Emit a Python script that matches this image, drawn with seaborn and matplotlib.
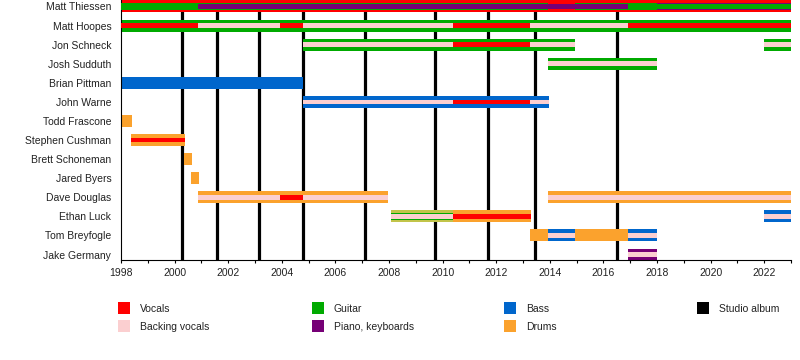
import matplotlib
matplotlib.use("Agg")
import matplotlib.pyplot as plt
from matplotlib.patches import Rectangle
import seaborn as sns

# ---------------- data ----------------
members = ["Matt Thiessen", "Matt Hoopes", "Jon Schneck", "Josh Sudduth",
           "Brian Pittman", "John Warne", "Todd Frascone", "Stephen Cushman",
           "Brett Schoneman", "Jared Byers", "Dave Douglas", "Ethan Luck",
           "Tom Breyfogle", "Jake Germany"]

roles = ["Vocals", "Backing vocals", "Guitar", "Piano, keyboards", "Bass", "Drums"]

# wide bars: (member, role, start, end)
wide_bars = [
    ("Matt Thiessen", "Vocals", 1998.0, 2023.0),
    ("Matt Hoopes", "Guitar", 1998.0, 2023.0),
    ("Jon Schneck", "Guitar", 2004.79, 2014.94),
    ("Jon Schneck", "Guitar", 2022.0, 2023.0),
    ("Josh Sudduth", "Guitar", 2013.93, 2018.0),
    ("Brian Pittman", "Bass", 1998.0, 2004.79),
    ("John Warne", "Bass", 2004.79, 2013.97),
    ("Todd Frascone", "Drums", 1998.0, 1998.41),
    ("Stephen Cushman", "Drums", 1998.37, 2000.39),
    ("Brett Schoneman", "Drums", 2000.35, 2000.65),
    ("Jared Byers", "Drums", 2000.6, 2000.9),
    ("Dave Douglas", "Drums", 2000.87, 2007.96),
    ("Dave Douglas", "Drums", 2013.93, 2023.0),
    ("Ethan Luck", "Guitar/Drums", 2008.07, 2010.39),
    ("Ethan Luck", "Drums", 2010.39, 2013.3),
    ("Ethan Luck", "Bass", 2022.0, 2023.0),
    ("Tom Breyfogle", "Drums", 2013.26, 2013.93),
    ("Tom Breyfogle", "Bass", 2013.93, 2014.94),
    ("Tom Breyfogle", "Drums", 2014.94, 2016.92),
    ("Tom Breyfogle", "Bass", 2016.92, 2018.0),
    ("Jake Germany", "Piano, keyboards", 2016.92, 2018.0),
]

# medium bars
mid_bars = [
    ("Matt Thiessen", "Guitar", 1998.0, 2013.93),
    ("Matt Thiessen", "Guitar", 2014.94, 2018.0),
    ("Matt Thiessen", "Piano, keyboards", 2018.0, 2023.0),
    ("Ethan Luck", "Guitar", 2008.07, 2010.39),
]

# thin bars
thin_bars = [
    ("Matt Thiessen", "Piano, keyboards", 2000.87, 2016.92),
    ("Matt Thiessen", "Guitar", 2018.0, 2023.0),
    ("Matt Hoopes", "Vocals", 1998.0, 2000.87),
    ("Matt Hoopes", "Backing vocals", 2000.87, 2003.93),
    ("Matt Hoopes", "Vocals", 2003.93, 2004.79),
    ("Matt Hoopes", "Backing vocals", 2004.79, 2010.39),
    ("Matt Hoopes", "Vocals", 2010.39, 2013.26),
    ("Matt Hoopes", "Backing vocals", 2013.26, 2016.92),
    ("Matt Hoopes", "Vocals", 2016.92, 2023.0),
    ("Jon Schneck", "Backing vocals", 2004.79, 2010.39),
    ("Jon Schneck", "Vocals", 2010.39, 2013.26),
    ("Jon Schneck", "Backing vocals", 2013.26, 2014.94),
    ("Jon Schneck", "Backing vocals", 2022.0, 2023.0),
    ("Josh Sudduth", "Backing vocals", 2013.93, 2018.0),
    ("John Warne", "Backing vocals", 2004.79, 2010.39),
    ("John Warne", "Vocals", 2010.39, 2013.26),
    ("John Warne", "Backing vocals", 2013.26, 2013.97),
    ("Stephen Cushman", "Vocals", 1998.37, 2000.39),
    ("Dave Douglas", "Backing vocals", 2000.87, 2003.93),
    ("Dave Douglas", "Vocals", 2003.93, 2004.79),
    ("Dave Douglas", "Backing vocals", 2004.79, 2007.96),
    ("Dave Douglas", "Backing vocals", 2013.93, 2023.0),
    ("Ethan Luck", "Backing vocals", 2008.07, 2010.39),
    ("Ethan Luck", "Vocals", 2010.39, 2013.3),
    ("Ethan Luck", "Backing vocals", 2022.0, 2023.0),
    ("Tom Breyfogle", "Backing vocals", 2013.93, 2014.94),
    ("Tom Breyfogle", "Backing vocals", 2016.92, 2018.0),
    ("Jake Germany", "Backing vocals", 2016.92, 2018.0),
]

studio_albums = [2000.29, 2001.58, 2003.15, 2004.79, 2007.1, 2009.72, 2011.7, 2013.45, 2016.52]

year_start, year_end = 1998, 2023
tick_years = list(range(1998, 2023, 2))

# ---------------- style ----------------
colors = {
    "Vocals": "#ff0000",
    "Backing vocals": "#fbcfd0",
    "Guitar": "#00aa00",
    "Piano, keyboards": "#760076",
    "Bass": "#0066cc",
    "Drums": "#fba22d",
    "Guitar/Drums": "#c2c44a",
}

sns.set_theme(style="white")
plt.rcParams["font.family"] = ["Liberation Sans", "DejaVu Sans"]

fig = plt.figure(figsize=(8, 3.6), dpi=100)
ax = fig.add_axes([121 / 800, 100 / 360, 670 / 800, 260 / 360])

row = {m: i for i, m in enumerate(members)}
px_row = 19.08
heights = {"wide": 12 / px_row, "mid": 7.5 / px_row, "thin": 4.6 / px_row}

for x in studio_albums:
    ax.axvline(x, color="black", lw=2.3, zorder=1)

for tier, bars in (("wide", wide_bars), ("mid", mid_bars), ("thin", thin_bars)):
    for m, r, s, e in bars:
        ax.barh(row[m], e - s, left=s, height=heights[tier], color=colors[r],
                linewidth=0, zorder=2 + ["wide", "mid", "thin"].index(tier))

ax.set_xlim(year_start, year_end)
ax.set_ylim(13 + 5.5 / px_row, -6.5 / px_row)
ax.set_yticks(range(len(members)))
ax.set_yticklabels(members, fontsize=7.5, color="#222222")
ax.set_xticks(tick_years)
ax.set_xticks(range(year_start, year_end + 1), minor=True)
ax.set_xticklabels([str(y) for y in tick_years], fontsize=7.5, color="#222222")
ax.tick_params(axis="y", length=0, pad=7)
ax.tick_params(axis="x", which="both", direction="out", length=2.5, width=0.8,
               color="black", pad=3, bottom=True)
for side in ("top", "right"):
    ax.spines[side].set_visible(False)
for side in ("left", "bottom"):
    ax.spines[side].set_color("black")
    ax.spines[side].set_linewidth(0.8)
ax.grid(False)

# ---------------- legend ----------------
legend_items = [
    ("Vocals", colors["Vocals"], 118, 302),
    ("Backing vocals", colors["Backing vocals"], 118, 320),
    ("Guitar", colors["Guitar"], 312, 302),
    ("Piano, keyboards", colors["Piano, keyboards"], 312, 320),
    ("Bass", colors["Bass"], 504, 302),
    ("Drums", colors["Drums"], 504, 320),
    ("Studio album", "black", 697, 302),
]
for label, c, x, y in legend_items:
    fig.patches.append(Rectangle((x / 800, 1 - (y + 12) / 360), 12 / 800, 12 / 360,
                                 transform=fig.transFigure, color=c, linewidth=0))
    fig.text((x + 22) / 800, 1 - (y + 6.5) / 360, label, fontsize=7.5,
             va="center", ha="left", color="#222222")

fig.savefig("out.png", dpi=100)
